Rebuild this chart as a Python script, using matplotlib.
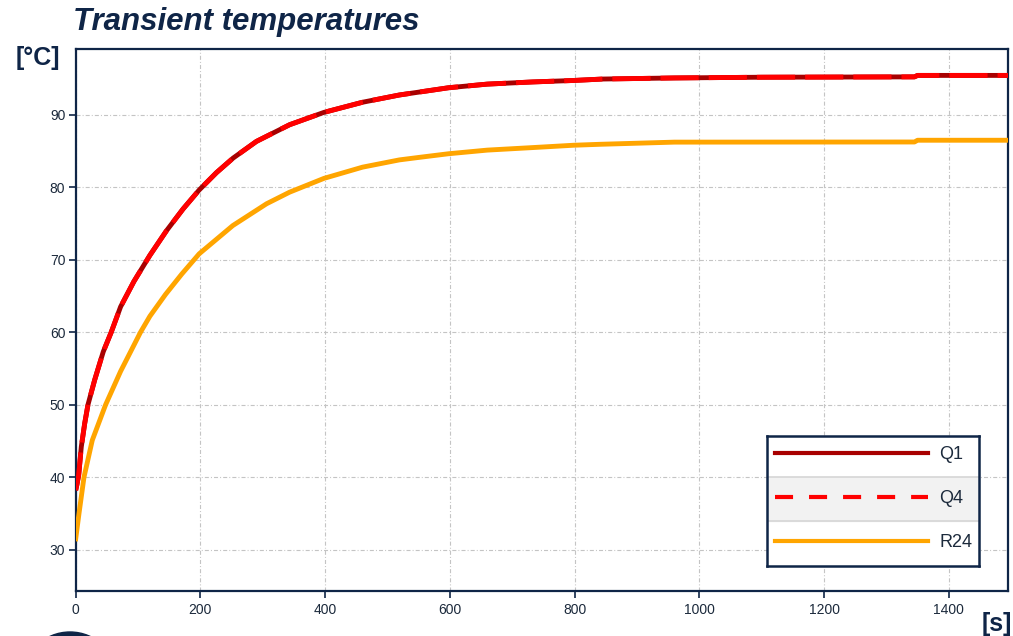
import numpy as np
import matplotlib.pyplot as plt
from matplotlib.patches import Ellipse

plt.rcParams['font.family'] = ['Liberation Sans', 'DejaVu Sans']
plt.rcParams['lines.scale_dashes'] = False

# values
t_q = [0, 2, 4.8, 9, 14.4, 19.7, 30.4, 44.2, 57, 72, 93.4, 119, 145.7, 172.3,
       198, 225.8, 252.4, 289.8, 343, 398, 460, 519, 598, 660, 733, 798, 845,
       960, 1100, 1345, 1350, 1500]
q1 = [38.2, 39.0, 40.3, 44.2, 47.4, 50.0, 53.4, 57.3, 60.0, 63.5, 67.0, 70.6,
      74.0, 77.0, 79.6, 82.0, 84.0, 86.3, 88.6, 90.3, 91.7, 92.7, 93.7, 94.2,
      94.5, 94.7, 94.9, 95.05, 95.15, 95.2, 95.4, 95.4]
q4 = [38.2, 39.0, 40.3, 44.2, 47.4, 50.0, 53.4, 57.3, 60.0, 63.5, 67.0, 70.6,
      74.0, 77.0, 79.6, 82.0, 84.0, 86.3, 88.6, 90.3, 91.7, 92.7, 93.7, 94.2,
      94.5, 94.7, 94.9, 95.05, 95.15, 95.2, 95.4, 95.4]

t_r = [0, 5.3, 13.3, 26.6, 48, 72, 104, 119, 144, 170, 198, 252, 306, 343,
       398, 460, 519, 551, 598, 660, 733, 798, 840, 960, 1345, 1350, 1500]
r24 = [31.5, 35.0, 40.0, 45.1, 50.0, 54.6, 60.0, 62.2, 65.2, 68.0, 70.8, 74.7,
       77.7, 79.3, 81.2, 82.75, 83.75, 84.1, 84.6, 85.1, 85.45, 85.77, 85.9,
       86.2, 86.22, 86.46, 86.46]

xticks = [0, 200, 400, 600, 800, 1000, 1200, 1400]
yticks = [30, 40, 50, 60, 70, 80, 90]
names = ['Q1', 'Q4', 'R24']
colors = ['#a80000', '#ff0000', '#ffa500']

navy = '#0f2547'
W, H = 1013, 636
fig = plt.figure(figsize=(W / 100, H / 100), dpi=100)
ax = fig.add_axes([75.7 / W, 1 - 590.7 / H, (1008 - 75.7) / W, (590.7 - 49.3) / H])

ax.plot(t_q, q1, color=colors[0], lw=3.5, zorder=3, solid_capstyle='butt')
ax.plot(t_q, q4, color=colors[1], lw=3.5, zorder=4, dashes=(27.5, 7.2))
ax.plot(t_r, r24, color=colors[2], lw=3.5, zorder=3)

ax.set_xlim(0, 1495)
ax.set_ylim(24.35, 99.0)
ax.set_xticks(xticks)
ax.set_yticks(yticks)
ax.grid(True, color='#c4c4c4', lw=0.8, linestyle=(0, (2.9, 1.5, 0.7, 1.5)))
ax.set_axisbelow(True)
for s in ['top', 'right', 'bottom', 'left']:
    ax.spines[s].set_color(navy)
    ax.spines[s].set_linewidth(1.6)
ax.tick_params(axis='both', which='both', direction='out', length=5, width=1.2,
               color=navy, labelcolor='#1c2a3c', labelsize=10)
ax.tick_params(axis='y', pad=2.5)
ax.tick_params(axis='x', pad=4)

# legend drawn as a small table
lg = fig.add_axes([767 / W, 1 - 566 / H, 212 / W, 130 / H])
lg.set_xlim(0, 212)
lg.set_ylim(130, 0)
lg.axhspan(41, 85, color='#f2f2f2', zorder=0)
lg.axhline(41, color='#d6d6d6', lw=1.2)
lg.axhline(85, color='#d6d6d6', lw=1.2)
ys = [16.7, 60.7, 104.7]
lg.plot([8, 161], [ys[0]] * 2, color=colors[0], lw=3)
lg.plot([8, 161], [ys[1]] * 2, color=colors[1], lw=3, dashes=(13, 11.5),
        solid_capstyle='butt', dash_capstyle='butt')
lg.plot([8, 161], [ys[2]] * 2, color=colors[2], lw=3)
for y, n in zip(ys, names):
    lg.text(172, y + 1.5, n, fontsize=13, color='#1c2a3c', va='center', ha='left')
lg.set_xticks([])
lg.set_yticks([])
for s in lg.spines.values():
    s.set_color(navy)
    s.set_linewidth(1.8)

fig.text(73 / W, 1 - 30 / H, 'Transient temperatures', fontsize=22.5,
         fontweight='bold', fontstyle='italic', color=navy, va='baseline')
fig.text(16 / W, 1 - 65 / H, '[°C]', fontsize=18, fontweight='bold',
         color=navy, va='baseline')
fig.text(982 / W, 1 - 631 / H, '[s]', fontsize=18, fontweight='bold',
         color=navy, va='baseline')

logo = Ellipse((70 / W, 1 - 680 / H), 96 / W, 96 / H, transform=fig.transFigure,
               color=navy, clip_on=False)
fig.patches.append(logo)

plt.savefig('out.png', dpi=100)
